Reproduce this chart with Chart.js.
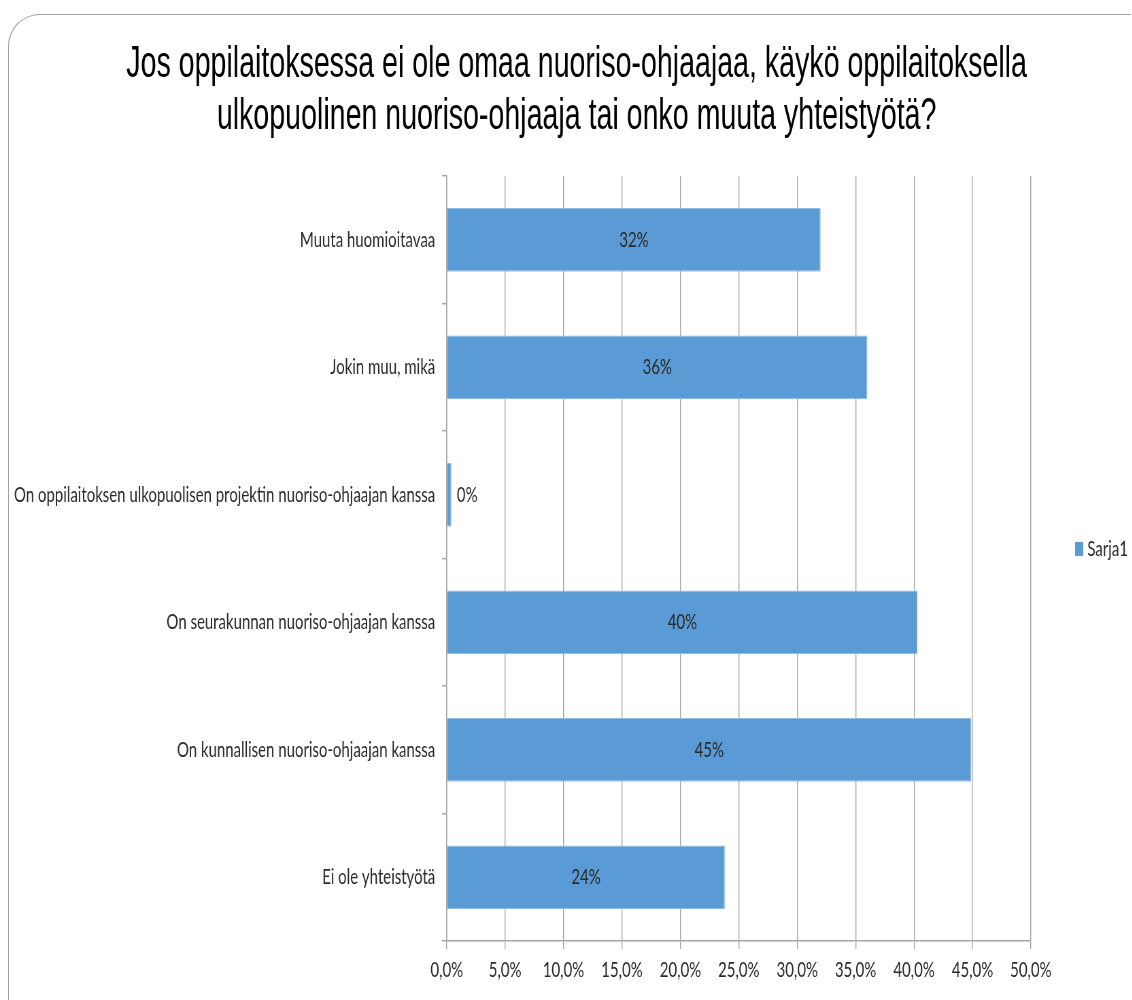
<!DOCTYPE html>
<html>
<head>
<meta charset="utf-8">
<script src="https://cdn.jsdelivr.net/npm/chart.js@4"></script>
<style>
  body { margin: 0; background: #fff; }
  #wrap { position: relative; width: 1132px; height: 1000px; overflow: hidden; }
  #frame {
    position: absolute; left: 8px; top: 14px; width: 1122px; height: 1100px;
    border-left: 1.5px solid #a0a0a0; border-top: 1.5px solid #a0a0a0;
    border-top-left-radius: 32px;
  }
  /* the original picture is squeezed sideways, so draw wide and scale down */
  #chart { position: absolute; left: 0; top: 0; transform: scaleX(0.68); transform-origin: 0 0; }
</style>
</head>
<body>
<div id="wrap">
  <div id="frame"></div>
  <canvas id="chart" width="1665" height="1000"></canvas>
</div>
<script>
// Data
const categories = [
  "Muuta huomioitavaa",
  "Jokin muu, mikä",
  "On oppilaitoksen ulkopuolisen projektin nuoriso-ohjaajan kanssa",
  "On seurakunnan nuoriso-ohjaajan kanssa",
  "On kunnallisen nuoriso-ohjaajan kanssa",
  "Ei ole yhteistyötä",
];
const values = [32.0, 36.0, 0.4, 40.3, 44.9, 23.8];
const seriesName = "Sarja1";
const xTicks = [0, 5, 10, 15, 20, 25, 30, 35, 40, 45, 50];
const titleLines = [
  "Jos oppilaitoksessa ei ole omaa nuoriso-ohjaajaa, käykö oppilaitoksella",
  "ulkopuolinen nuoriso-ohjaaja tai onko muuta yhteistyötä?",
];

const labelFont = "Lato, 'Open Sans', sans-serif";
const textColor = "#2b2b2b";
const barColor = "#5b9bd5";

// two-line title, centred on the whole picture
const bigTitle = {
  id: "bigTitle",
  afterDraw(chart) {
    const ctx = chart.ctx;
    ctx.save();
    ctx.translate(848, 0);
    ctx.scale(0.955, 1);
    ctx.font = "44px 'Liberation Sans', Arial, sans-serif";
    ctx.fillStyle = "#000";
    ctx.textAlign = "center";
    ctx.textBaseline = "alphabetic";
    titleLines.forEach((t, i) => ctx.fillText(t, 0, 77 + i * 52));
    ctx.restore();
  },
};

// value labels inside the bars (outside when the bar is tiny)
const barLabels = {
  id: "barLabels",
  afterDatasetsDraw(chart) {
    const ctx = chart.ctx;
    const meta = chart.getDatasetMeta(0);
    ctx.save();
    ctx.font = "22px " + labelFont;
    ctx.fillStyle = textColor;
    ctx.textBaseline = "middle";
    meta.data.forEach((bar, i) => {
      const txt = Math.round(values[i]) + "%";
      const w = bar.x - bar.base;
      if (w < 40) {
        ctx.textAlign = "left";
        ctx.fillText(txt, bar.x + 8, bar.y);
      } else {
        ctx.textAlign = "center";
        ctx.fillText(txt, bar.base + w / 2, bar.y);
      }
    });
    ctx.restore();
  },
};

// legend on the right, next to the plot
const sideLegend = {
  id: "sideLegend",
  afterDraw(chart) {
    const ctx = chart.ctx;
    const ds = chart.data.datasets[0];
    const y = 549;
    ctx.save();
    ctx.fillStyle = ds.backgroundColor;
    ctx.fillRect(1581, y - 7, 12, 14);
    ctx.font = "22px " + labelFont;
    ctx.fillStyle = textColor;
    ctx.textAlign = "left";
    ctx.textBaseline = "middle";
    ctx.fillText(ds.label, 1599, y);
    ctx.restore();
  },
};

const ctx = document.getElementById("chart").getContext("2d");
new Chart(ctx, {
  type: "bar",
  data: {
    labels: categories,
    datasets: [
      {
        label: seriesName,
        data: values,
        backgroundColor: barColor,
        borderColor: "#93bce4",
        borderWidth: 1.2,
        categoryPercentage: 1,
        barPercentage: 0.5,
      },
    ],
  },
  options: {
    indexAxis: "y",
    responsive: false,
    animation: false,
    layout: { padding: { top: 176, right: 149, bottom: 0, left: 0 } },
    plugins: {
      title: { display: false },
      legend: { display: false },
      tooltip: { enabled: false },
    },
    scales: {
      x: {
        min: 0,
        max: 50,
        afterBuildTicks: (s) => { s.ticks = xTicks.map((v) => ({ value: v })); },
        ticks: {
          color: textColor,
          font: { family: labelFont, size: 22 },
          padding: 8,
          maxRotation: 0,
          callback: (v) => v.toFixed(1).replace(".", ",") + "%",
        },
        grid: { color: "#a6a6a6", lineWidth: 1.4, tickLength: 8 },
        border: { color: "#a6a6a6", width: 1.4 },
        afterFit: (s) => { s.height = 59; },
      },
      y: {
        ticks: {
          color: textColor,
          font: { family: labelFont, size: 22 },
          padding: 10,
        },
        grid: { drawOnChartArea: false, color: "#a6a6a6", lineWidth: 1.4, tickLength: 7 },
        border: { color: "#a6a6a6", width: 1.4 },
        afterFit: (s) => { s.width = 657; },
      },
    },
  },
  plugins: [barLabels, sideLegend, bigTitle],
});
</script>
</body>
</html>
